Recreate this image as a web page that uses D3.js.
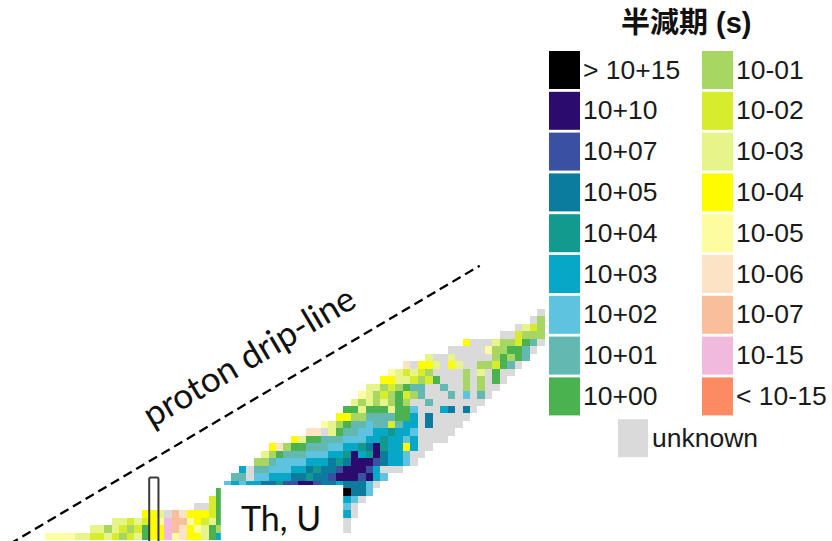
<!DOCTYPE html>
<html>
<head>
<meta charset="utf-8">
<script src="https://cdn.jsdelivr.net/npm/d3@7"></script>
<style>
  html, body { margin: 0; padding: 0; background: #ffffff; }
  svg { display: block; }
</style>
</head>
<body>
<svg id="chart" width="832" height="541"></svg>
<script>
// Half-life classes: legend labels, one-letter codes used in the grid rows, fill colours
const halfLifeLabels = ["> 10+15", "10+10", "10+07", "10+05", "10+04", "10+03", "10+02", "10+01", "10+00",
                        "10-01", "10-02", "10-03", "10-04", "10-05", "10-06", "10-07", "10-15", "< 10-15"];
const halfLifeCodes  = ["K", "P", "B", "T", "G", "C", "L", "M", "N",
                        "a", "b", "c", "d", "e", "f", "g", "h", "i"];
const halfLifeColors = ["#000000", "#2b0b6d", "#3a50a2", "#0b7c9e", "#129a8e", "#07a7c8", "#5ec3df", "#63b9b1", "#4bb250",
                        "#a7d762", "#d8ec2e", "#e7f48a", "#fffb00", "#fefca0", "#fde3c5", "#f9be9b", "#f2b9de", "#fc8b63"];
const unknownLabel = "unknown";
const unknownCode  = "u";
const unknownColor = "#dadada";
const legendTitle  = "半減期 (s)";

// Nuclide rows, top row first: first column of each row, then one half-life code per cell
const rowStart = [72, 71, 69, 67, 62, 60, 57, 54, 52, 51, 49, 48, 47, 46, 45, 43,
                  41, 39, 36, 35, 34, 32, 31, 30, 29, 28, 26, 19, 15, 12, 6];
const rowCells = [
  "u",
  "ua",
  "ucba",
  "uubaaa",
  "duuucaabNMu",
  "uuuuueaaNNMu",
  "cuucuuuuuaNaNM",
  "fuddcudcuuaabNMu",
  "ecbcbauuuuaucuNuu",
  "ddccbabNuuuauauNu",
  "ccabaNMMuuMuuauauu",
  "ecabaNbaMuuuMuLuMu",
  "cacacaNauuMuuuuuuu",
  "NNcNNNcNNLuuuCTuTu",
  "ddaaMMMMNNCuTuuuuu",
  "ecaNMMLMMbMCCuTuuuu",
  "ffucNMMLLCCGCCLuuuuu",
  "dcNNMMMLLLCCGCCLCuuuu",
  "dfaNNMMMLLCCGTPGCCdCuu",
  "caNMMMLLLCCGPCGPTCCLuu",
  "aaMLLLLCCCTGTPPPBTCCLu",
  "CuMMLLLCCTGTTBPPPBCuuu",
  "MMuLLCCCTTGTTBPPPBPCL",
  "LCLCCTTGBBPPBTTCTTTLu",
  "NMLLCCTGBPPPBTTCCKTTL",
  "bNMLCCTTGBPPBTTCCCCLu",
  "uubNMLLCCTGGBPBTCCCCLu",
  "ddcugfdddbNMMLLCCTGBBTCCLLLCu",
  "ccbcbdehggedbcNMLLCCTGBBTCCLLLCu",
  "ccacbabNddhgfdecNaMLCCTGBPBTCCLLCCu",
  "eeeeccbbcbabcNddhefddcNCMLLCCTGBBTCCLLCu"
];

// Annotations in grid units (column, row)
const dripLine   = [[1.3, 31.5], [64.3, -5.8]];
const markColumn = 20;          // outlined column
const markTopRow = 22.6;
const labelBox   = { c0: 29.6, c1: 46, r0: 23.6 };

const svg = d3.select("#chart");
const W = 832, H = 541;
const cell = 7.46;

const x = d3.scaleLinear().domain([0, 73]).range([0, 73 * cell]);
const y = d3.scaleLinear().domain([0, 32]).range([309, 309 + 32 * cell]);
const color = d3.scaleOrdinal()
  .domain([...halfLifeCodes, unknownCode])
  .range([...halfLifeColors, unknownColor]);

// ---- nuclide cells ----
const cells = rowCells.flatMap((s, k) =>
  s.split("").map((code, i) => ({ row: k, col: rowStart[k] + i, code }))
).filter(d => d.code !== ".");

const px = v => Math.round(x(v));
const py = v => Math.round(y(v));

svg.append("g").attr("class", "cells")
  .selectAll("rect")
  .data(cells)
  .join("rect")
  .attr("x", d => px(d.col))
  .attr("y", d => py(d.row))
  .attr("width", d => px(d.col + 1) - px(d.col))
  .attr("height", d => py(d.row + 1) - py(d.row))
  .attr("fill", d => color(d.code));

// ---- white label box with "Th, U" ----
svg.append("rect")
  .attr("x", x(labelBox.c0))
  .attr("y", y(labelBox.r0))
  .attr("width", x(labelBox.c1) - x(labelBox.c0))
  .attr("height", H - y(labelBox.r0) + 10)
  .attr("fill", "#ffffff");

svg.append("text")
  .attr("x", 241)
  .attr("y", 531)
  .attr("font-family", "Lato, 'Open Sans', sans-serif")
  .attr("font-size", 34)
  .attr("fill", "#111111")
  .text("Th, U");

// ---- outlined column ----
svg.append("rect")
  .attr("x", x(markColumn))
  .attr("y", y(markTopRow))
  .attr("width", cell + 1.8)
  .attr("height", H - y(markTopRow) + 10)
  .attr("rx", 1.5)
  .attr("fill", "none")
  .attr("stroke", "#3a3a3a")
  .attr("stroke-width", 2);

// ---- proton drip-line ----
const line = d3.line().x(d => x(d[0])).y(d => y(d[1]));
svg.append("path")
  .datum(dripLine)
  .attr("d", line)
  .attr("fill", "none")
  .attr("stroke", "#000000")
  .attr("stroke-width", 2.3)
  .attr("stroke-dasharray", "9.5,5.2");

const angle = Math.atan2(y(dripLine[1][1]) - y(dripLine[0][1]), x(dripLine[1][0]) - x(dripLine[0][0])) * 180 / Math.PI;
svg.append("text")
  .attr("transform", `translate(152,428) rotate(${angle})`)
  .attr("font-family", "Lato, 'Open Sans', sans-serif")
  .attr("font-size", 35)
  .attr("fill", "#111111")
  .text("proton drip-line");

// ---- legend ----
const legend = svg.append("g").attr("class", "legend");
const rowY = d3.scaleLinear().domain([0, 1]).range([51, 91.8]);
const swW = 31, swH = 38;
const colX = [549, 702];
const labelFont = "'Liberation Sans', Arial, sans-serif";

legend.append("text")
  .attr("x", 621)
  .attr("y", 33)
  .attr("font-family", "'Liberation Sans', 'Noto Sans CJK JP', sans-serif")
  .attr("font-weight", "bold")
  .attr("font-size", 29)
  .attr("fill", "#111111")
  .text(legendTitle);

const items = halfLifeLabels.map((label, i) => ({
  label, code: halfLifeCodes[i], colIdx: i < 9 ? 0 : 1, rowIdx: i % 9
}));

const entry = legend.selectAll("g.entry")
  .data(items)
  .join("g")
  .attr("class", "entry")
  .attr("transform", d => `translate(${colX[d.colIdx]},${rowY(d.rowIdx)})`);

entry.append("rect")
  .attr("width", swW)
  .attr("height", swH)
  .attr("fill", d => color(d.code));

entry.append("text")
  .attr("x", swW + 3)
  .attr("y", 27.5)
  .attr("font-family", labelFont)
  .attr("font-size", 26.5)
  .attr("fill", "#1a1a1a")
  .text(d => d.label);

const unk = legend.append("g")
  .attr("transform", `translate(618,${rowY(9) + 1})`);
unk.append("rect")
  .attr("width", 30)
  .attr("height", swH)
  .attr("fill", color(unknownCode));
unk.append("text")
  .attr("x", 34)
  .attr("y", 27.5)
  .attr("font-family", labelFont)
  .attr("font-size", 26.5)
  .attr("fill", "#1a1a1a")
  .text(unknownLabel);
</script>
</body>
</html>
